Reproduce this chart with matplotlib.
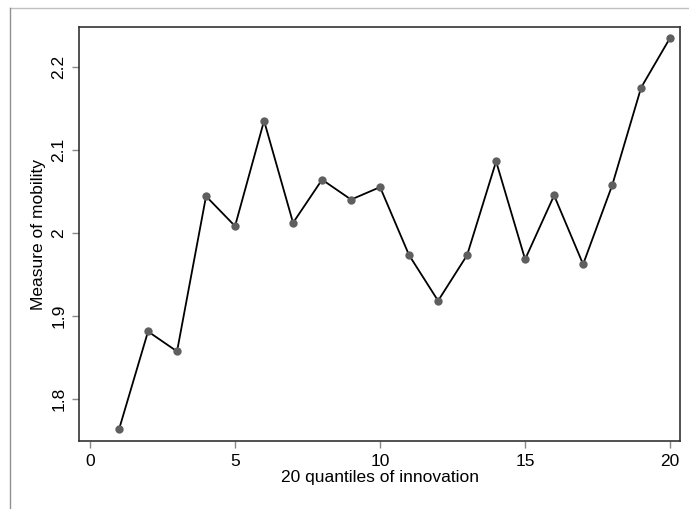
import matplotlib
matplotlib.use("Agg")
from matplotlib import pyplot as plt
from matplotlib.lines import Line2D

plt.rcParams["font.family"] = ["Liberation Sans", "DejaVu Sans"]

quantiles = list(range(1, 21))
mobility = [
    1.763, 1.881, 1.857, 2.044, 2.008, 2.135, 2.012, 2.064, 2.040, 2.055,
    1.973, 1.918, 1.973, 2.086, 1.968, 2.045, 1.962, 2.057, 2.175, 2.235,
]
x_ticks = [0, 5, 10, 15, 20]
y_ticks = [1.8, 1.9, 2.0, 2.1, 2.2]
y_labels = ["1.8", "1.9", "2", "2.1", "2.2"]


def main():
    fig = plt.figure(figsize=(6.89, 5.09), dpi=100)
    ax = fig.add_axes([79 / 689, 68 / 509, 601 / 689, 414 / 509])

    ax.plot(quantiles, mobility, "-", color="black", linewidth=1.3, zorder=2)
    ax.plot(quantiles, mobility, "o", color="#5f5f5f", markersize=6,
            markeredgewidth=0, zorder=3)

    ax.set_xlim(-0.38, 20.34)
    ax.set_ylim(1.749, 2.248)
    ax.set_xticks(x_ticks)
    ax.set_yticks(y_ticks, y_labels)
    ax.tick_params(axis="both", length=5, width=1, color="#888888",
                   labelsize=12.5, pad=4)
    ax.tick_params(axis="y", labelrotation=90)
    for label in ax.get_yticklabels():
        label.set_va("center")

    for spine in ax.spines.values():
        spine.set_color("#333333")
        spine.set_linewidth(1.2)

    ax.set_xlabel("20 quantiles of innovation", fontsize=12.5, labelpad=1)
    ax.set_ylabel("Measure of mobility", fontsize=12.5, labelpad=4)

    # grey border of the surrounding frame
    fig.add_artist(Line2D([10 / 689, 1], [1 - 8 / 509, 1 - 8 / 509],
                          color="#c0c0c0", linewidth=1, transform=fig.transFigure))
    fig.add_artist(Line2D([10 / 689, 10 / 689], [0, 1 - 8 / 509],
                          color="#909090", linewidth=1, transform=fig.transFigure))

    fig.savefig("out.png", dpi=100)


if __name__ == "__main__":
    main()
